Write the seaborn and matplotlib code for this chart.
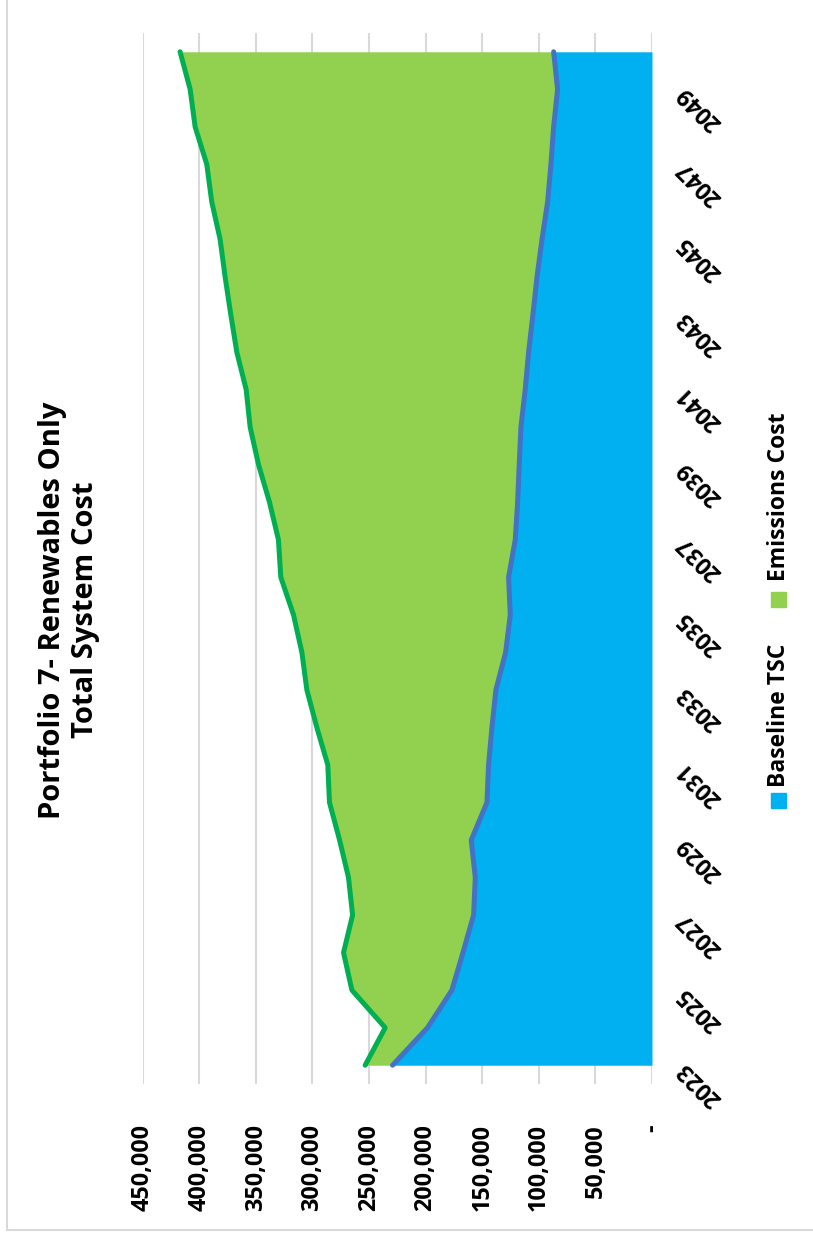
import matplotlib
matplotlib.use('Agg')
import matplotlib.pyplot as plt
import seaborn as sns
import pandas as pd
from matplotlib.ticker import FuncFormatter
from matplotlib.patches import Rectangle
from matplotlib.lines import Line2D

# data
years = list(range(2023, 2051))
baseline_tsc = [229200, 198300, 176800, 167000, 157600, 156100, 159700, 145800,
                144400, 141400, 137900, 129300, 125200, 126700, 120800, 118700,
                117300, 115800, 112000, 109000, 105200, 101600, 97200, 92200,
                89300, 86900, 83400, 86900]
emissions_cost = [24200, 37400, 88300, 105500, 106900, 112000, 116300, 139100,
                  142000, 154700, 167000, 180000, 191500, 201200, 209200, 219200,
                  230300, 239200, 246500, 257800, 266900, 275500, 284300, 296700,
                  304000, 316700, 324600, 330000]
year_labels = [str(y) for y in years[::2]]
series_names = ['Baseline TSC', 'Emissions Cost']

BLUE = '#00B0F0'
GREEN = '#92D050'
GREEN_LINE = '#00B050'
BLUE_LINE = '#4472C4'

sns.set_theme(style='white')
plt.rcParams['font.family'] = ['Open Sans', 'DejaVu Sans']

df = pd.DataFrame({'year': years, 'baseline': baseline_tsc, 'emissions': emissions_cost})
df['total'] = df['baseline'] + df['emissions']

W, H = 813, 1234
fig = plt.figure(figsize=(W / 100, H / 100), dpi=100)
ax = fig.add_axes([142.6 / W, 1 - 1084 / H, (652 - 142.6) / W, (1084 - 33) / H])

# stacked area, drawn sideways
ax.fill_betweenx(df['year'], 0, df['baseline'], color=BLUE, lw=0)
ax.fill_betweenx(df['year'], df['baseline'], df['total'], color=GREEN, lw=0)
sns.lineplot(data=df, x='total', y='year', orient='y', color=GREEN_LINE,
             lw=3.6, ax=ax, solid_capstyle='round')
sns.lineplot(data=df, x='baseline', y='year', orient='y', color=BLUE_LINE,
             lw=3.6, ax=ax, solid_capstyle='round')

ax.set_xlim(450000, 0)
ax.set_ylim(2022.5, 2050.5)
ax.set_xticks(range(0, 450001, 50000))
ax.xaxis.set_major_formatter(FuncFormatter(lambda v, p: '-' if v == 0 else f'{v:,.0f}'))
ax.set_axisbelow(True)
ax.grid(axis='x', color='#D9D9D9', lw=1.5)
ax.grid(axis='y', visible=False)
for s in ax.spines.values():
    s.set_visible(False)
ax.set_xlabel('')
ax.set_ylabel('')

ax.tick_params(axis='x', length=0, pad=29, labelsize=16.8, labelcolor='black')
for lbl in ax.get_xticklabels():
    lbl.set_rotation(90)
    lbl.set_fontweight('bold')

ax.yaxis.tick_right()
ax.set_yticks(years[::2])
ax.set_yticklabels(year_labels)
ax.tick_params(axis='y', length=0, pad=21, labelsize=16.5, labelcolor='black')
for lbl in ax.get_yticklabels():
    lbl.set_rotation(135)
    lbl.set_ha('right')
    lbl.set_va('center')
    lbl.set_rotation_mode('anchor')
    lbl.set_fontweight('bold')

# title
fig.text(69 / W, 1 - 610 / H, 'Portfolio 7- Renewables Only\nTotal System Cost',
         rotation=90, ha='center', va='center', multialignment='center',
         linespacing=1.2, fontsize=21, fontweight='bold', color='black')

# legend (rotated)
for name, col, sq_bottom, txt_mid in [(series_names[0], BLUE, 808, 715),
                                      (series_names[1], GREEN, 607, 497)]:
    fig.patches.append(Rectangle((771 / W, 1 - sq_bottom / H), 15 / W, 15 / H,
                                 transform=fig.transFigure, color=col))
    fig.text(779 / W, 1 - txt_mid / H, name, rotation=90, ha='center', va='center',
             fontsize=16.5, fontweight='bold', color='black')

# chart border
fig.add_artist(Line2D([7 / W, 7 / W], [1 - 1230 / H, 1], transform=fig.transFigure,
                      color='#D9D9D9', lw=1.5))
fig.add_artist(Line2D([7 / W, 1], [1 - 1230 / H, 1 - 1230 / H], transform=fig.transFigure,
                      color='#D9D9D9', lw=1.5))

fig.savefig('out.png', dpi=100)
